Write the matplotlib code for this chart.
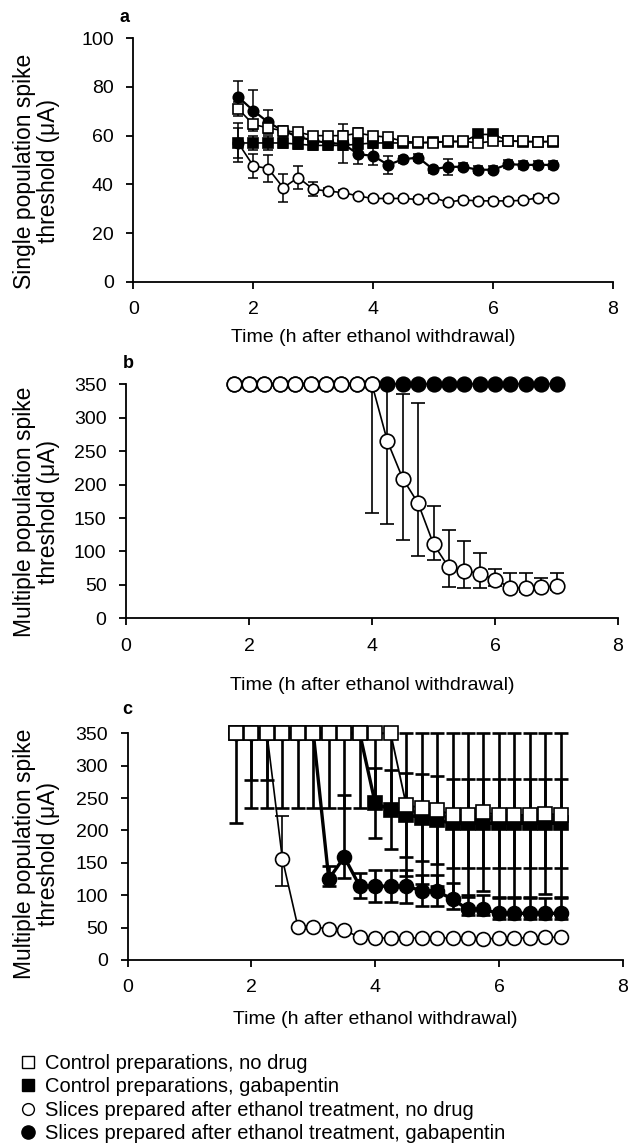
import numpy as np
import matplotlib.pyplot as plt
from matplotlib.lines import Line2D

plt.rcParams['font.family'] = ['Liberation Sans', 'DejaVu Sans']

# sampling times (h after ethanol withdrawal), shared by all panels
times = [1.75, 2.0, 2.25, 2.5, 2.75, 3.0, 3.25, 3.5, 3.75, 4.0, 4.25,
         4.5, 4.75, 5.0, 5.25, 5.5, 5.75, 6.0, 6.25, 6.5, 6.75, 7.0]

# panel a - single population spike threshold (uA)
a_ctrl = [71, 64.6, 63.2, 62, 61.4, 60, 60, 60, 61, 60, 59.3,
          57.7, 57.2, 57, 57.7, 57.7, 57, 57.7, 57.7, 57.7, 57.5, 57.7]
a_ctrl_err = [3, 2, 2, 1.5, 1.5, 1, 1, 2, 2, 1.5, 1,
              1, 1, 1, 1, 1, 1, 1, 1, 1, 1, 1]
a_gaba = [57, 57, 57, 57, 56.5, 56, 56, 56, 56.5, 57, 57,
          57, 57, 57.5, 57.5, 57.5, 60.5, 60.5, 58, 57.5, 57.5, 57.5]
a_gaba_err = [6, 3, 3, 2, 2, 2, 2, 2, 2, 2, 2,
              1.5, 1.5, 1.5, 1.5, 1.5, 2, 2, 1.5, 1.5, 1.5, 1.5]
a_eth = [57, 47.6, 46.5, 38.6, 42.8, 38, 37.2, 36.6, 35.2, 34.2, 34.2,
         34.2, 33.8, 34.5, 32.7, 33.6, 33.2, 33.2, 33.2, 33.4, 34.5, 34.5]
a_eth_err = [8, 5, 5.7, 5.8, 4.6, 2.9, 1.5, 1, 1, 1, 1,
             1, 1, 1, 1, 1, 1, 1, 1, 1, 1, 1]
a_eth_gaba = [75.9, 70.3, 65.5, 62, 59.5, 58, 57, 56.6, 52.4, 51.7, 48,
              50.3, 51, 46.2, 47.2, 47.2, 46, 46, 48.3, 48, 48, 48]
a_eth_gaba_err = [6.6, 8.3, 5, 2, 2, 2, 2, 8, 4, 3.8, 3.7,
                  1.5, 1.5, 1.5, 3.4, 1.5, 1.5, 1.5, 1.5, 1.5, 1.5, 1.5]

# panel b - multiple population spike threshold (uA)
b_eth = [350, 350, 350, 350, 350, 350, 350, 350, 350, 350, 265,
         209, 172, 111, 76, 71, 67, 58, 46, 45, 47, 48]
b_eth_lo = [0, 0, 0, 0, 0, 0, 0, 0, 0, 192, 124,
            92, 79, 24, 29, 26, 22, 10, 5, 5, 5, 5]
b_eth_hi = [0, 0, 0, 0, 0, 0, 0, 0, 0, 0, 124,
            127, 150, 57, 56, 44, 31, 15, 22, 23, 13, 20]
b_eth_gaba = [350, 350, 350, 350, 350, 350, 350, 350, 350, 350, 350,
              350, 350, 350, 350, 350, 350, 350, 350, 350, 350, 350]

# panel c - multiple population spike threshold (uA), control slices
c_ctrl = [350, 350, 350, 350, 350, 350, 350, 350, 350, 350, 350,
          240, 234, 232, 224, 224, 228, 224, 224, 224, 226, 224]
c_ctrl_lo = [139, 115, 115, 115, 115, 115, 115, 115, 115, 115, 115,
             110, 116, 118, 126, 126, 122, 126, 126, 126, 124, 126]
c_ctrl_hi = [0, 0, 0, 0, 0, 0, 0, 0, 0, 0, 0,
             110, 116, 118, 126, 126, 122, 126, 126, 126, 124, 126]
c_gaba = [350, 350, 350, 350, 350, 350, 350, 350, 350, 242, 232,
          224, 220, 216, 211, 211, 211, 211, 211, 211, 211, 211]
c_gaba_err = [0, 72, 72, 0, 0, 0, 0, 0, 0, 54, 61,
              65, 67, 68, 69, 69, 69, 69, 69, 69, 69, 69]
c_eth = [350, 350, 350, 156, 51.5, 51, 48, 46, 35, 34, 34,
         34, 34, 34, 34, 34, 32, 34, 34, 34, 35, 35]
c_eth_lo = [0, 0, 0, 42, 0, 0, 0, 0, 0, 0, 0,
            0, 0, 0, 0, 0, 0, 0, 0, 0, 0, 0]
c_eth_hi = [0, 0, 0, 66, 0, 0, 0, 0, 0, 0, 0,
            0, 0, 0, 0, 0, 0, 0, 0, 0, 0, 0]
c_eth_gaba = [350, 350, 350, 350, 350, 350, 125, 159, 114, 114, 114,
              114, 107, 106, 94, 78, 78, 72, 72, 72, 72, 72]
c_eth_gaba_lo = [0, 0, 0, 0, 0, 0, 10, 33, 19, 24, 24,
                 26, 24, 23, 16, 8, 8, 8, 8, 8, 8, 8]
c_eth_gaba_hi = [0, 0, 0, 0, 0, 0, 20, 95, 20, 25, 25,
                 25, 25, 25, 25, 23, 23, 23, 23, 23, 23, 23]

legend_labels = ['Control preparations, no drug',
                 'Control preparations, gabapentin',
                 'Slices prepared after ethanol treatment, no drug',
                 'Slices prepared after ethanol treatment, gabapentin']

W, H = 634, 1148
fig = plt.figure(figsize=(W / 100, H / 100), dpi=100)


def px_axes(left, right, top, bottom):
    # pixel box -> figure fraction
    return [left / W, 1 - bottom / H, (right - left) / W, (bottom - top) / H]


def errbars(ax, y, lo, hi, elw, cap):
    idx = [i for i in range(len(y)) if lo[i] > 0 or hi[i] > 0]
    if not idx:
        return
    ax.errorbar([times[i] for i in idx], [y[i] for i in idx],
                yerr=[[lo[i] for i in idx], [hi[i] for i in idx]],
                fmt='none', ecolor='black', elinewidth=elw,
                capsize=cap, capthick=elw, zorder=2)


def series(ax, y, marker, filled, ms, lw, z):
    ax.plot(times, y, color='black', lw=lw, marker=marker, ms=ms,
            mfc='black' if filled else 'white', mec='black', mew=1.2,
            zorder=z, clip_on=False)


def style(ax, ymax, ystep):
    ax.set_xlim(0, 8)
    ax.set_xticks([0, 2, 4, 6, 8])
    ax.set_yticks(np.arange(0, ymax + 1, ystep))
    for s in ['top', 'right']:
        ax.spines[s].set_visible(False)
    for s in ['left', 'bottom']:
        ax.spines[s].set_linewidth(1.3)
    ax.spines['left'].set_bounds(0, ymax)
    ax.tick_params(direction='out', length=5, width=1.3, labelsize=14, pad=9)


# ---- panel a
ax_a = fig.add_axes(px_axes(133.3, 613, 38.3, 281.7))
errbars(ax_a, a_eth, a_eth_err, a_eth_err, 1.1, 3.6)
errbars(ax_a, a_eth_gaba, a_eth_gaba_err, a_eth_gaba_err, 1.1, 3.6)
errbars(ax_a, a_gaba, a_gaba_err, a_gaba_err, 1.1, 3.6)
errbars(ax_a, a_ctrl, a_ctrl_err, a_ctrl_err, 1.1, 3.6)
series(ax_a, a_eth, 'o', False, 7.5, 1.2, 3)
series(ax_a, a_eth_gaba, 'o', True, 7.5, 1.6, 4)
series(ax_a, a_gaba, 's', True, 7, 1.2, 5)
series(ax_a, a_ctrl, 's', False, 7, 1.2, 6)
ax_a.set_ylim(0, 100)
style(ax_a, 100, 20)

# ---- panel b  (ylim a bit above 350 so the top caps are not cut)
top_b = 384.3 - 2 * 234 / 350
ax_b = fig.add_axes(px_axes(126, 618, top_b, 618.3))
errbars(ax_b, b_eth, b_eth_lo, b_eth_hi, 1.2, 4.8)
series(ax_b, b_eth_gaba, 'o', True, 10.5, 1.2, 3)
series(ax_b, b_eth, 'o', False, 10.5, 1.2, 4)
ax_b.set_ylim(0, 352)
style(ax_b, 350, 50)

# ---- panel c
top_c = 733.3 - 2 * 226.7 / 350
ax_c = fig.add_axes(px_axes(127.7, 622.7, top_c, 960))
errbars(ax_c, c_ctrl, c_ctrl_lo, c_ctrl_hi, 1.9, 4.8)
errbars(ax_c, c_gaba, c_gaba_err, c_gaba_err, 1.9, 4.8)
errbars(ax_c, c_eth, c_eth_lo, c_eth_hi, 1.2, 4.8)
errbars(ax_c, c_eth_gaba, c_eth_gaba_lo, c_eth_gaba_hi, 1.9, 4.8)
series(ax_c, c_eth, 'o', False, 10, 1.2, 3)
series(ax_c, c_eth_gaba, 'o', True, 10, 2.4, 4)
series(ax_c, c_gaba, 's', True, 10.5, 2.4, 5)
series(ax_c, c_ctrl, 's', False, 10.5, 1.3, 6)
ax_c.set_ylim(0, 352)
style(ax_c, 350, 50)

# ---- labels
ylab_a = 'Single population spike\nthreshold (\u03bcA)'
ylab_bc = 'Multiple population spike\nthreshold (\u03bcA)'
xlab = 'Time (h after ethanol withdrawal)'
for ylab, yc in [(ylab_a, 171), (ylab_bc, 512), (ylab_bc, 854)]:
    fig.text(36.5 / W, 1 - yc / H, ylab, rotation=90, ha='center',
             va='center', ma='center', fontsize=16.5, linespacing=1.05)
for xc, yc in [(373, 337), (372, 685), (375, 1020)]:
    fig.text(xc / W, 1 - yc / H, xlab, ha='center', va='center', fontsize=14)
for letter, xc, yc in [('a', 125, 17), ('b', 128, 363), ('c', 127, 710)]:
    fig.text(xc / W, 1 - yc / H, letter, ha='center', va='center',
             fontsize=13, fontweight='bold')

# ---- legend (below panel c)
handles = [
    Line2D([], [], ls='none', marker='s', ms=8, mfc='white', mec='black', mew=1),
    Line2D([], [], ls='none', marker='s', ms=9, mfc='black', mec='black'),
    Line2D([], [], ls='none', marker='o', ms=8.5, mfc='white', mec='black', mew=1),
    Line2D([], [], ls='none', marker='o', ms=9.5, mfc='black', mec='black'),
]
fig.legend(handles, legend_labels, loc='upper left',
           bbox_to_anchor=(20 / W, 1 - 1054 / H), frameon=False,
           fontsize=14.5, handlelength=0.8, handletextpad=0.45,
           labelspacing=0.22, borderpad=0, borderaxespad=0)

fig.savefig('out.png', dpi=100)
